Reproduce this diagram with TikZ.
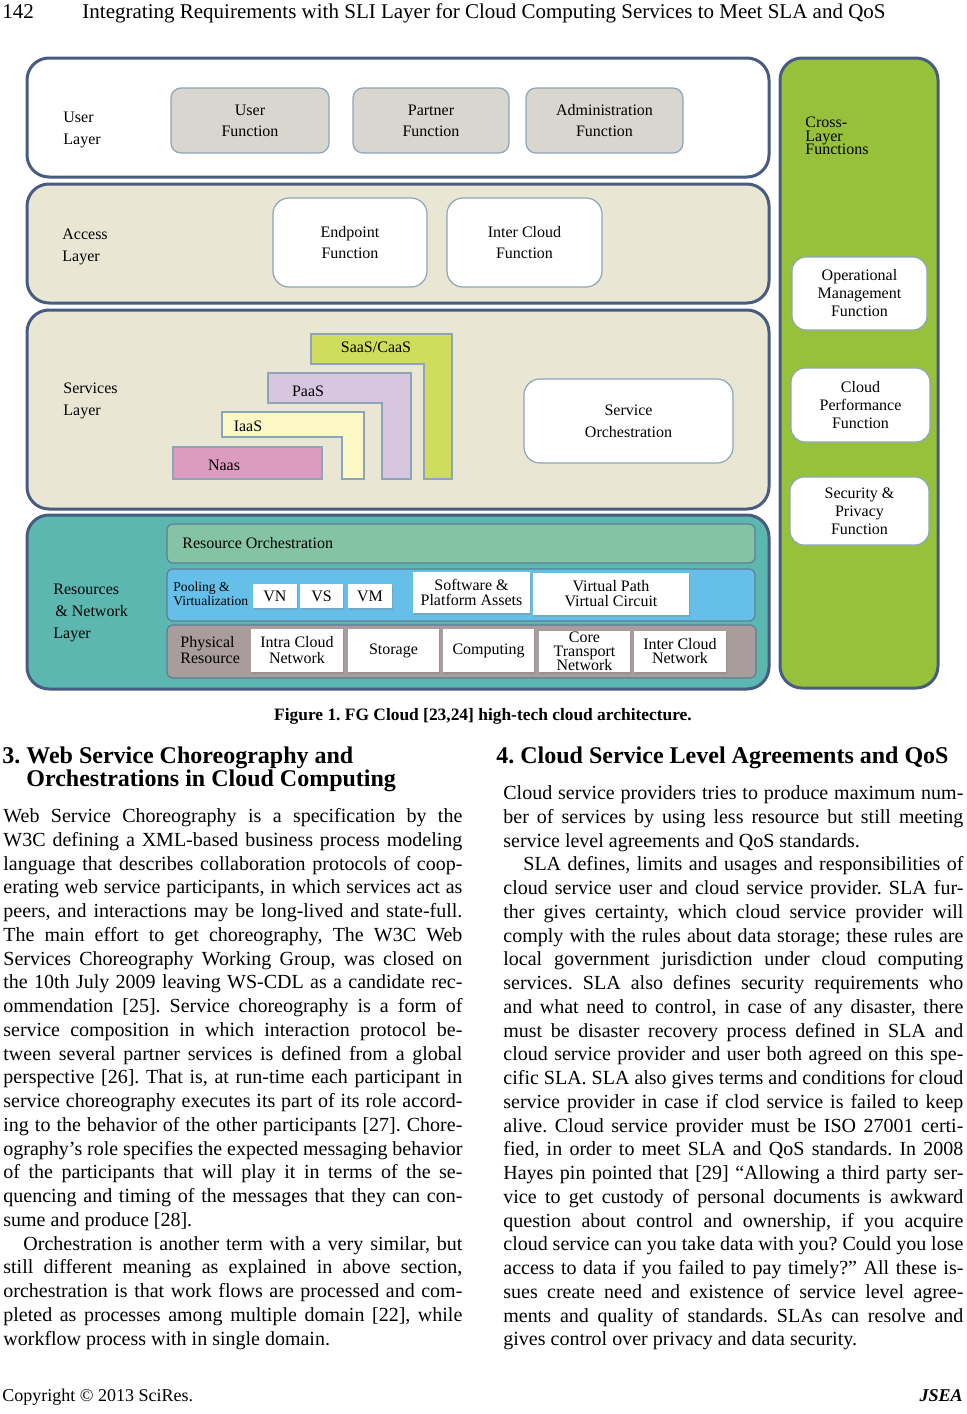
\documentclass[tikz,border=0pt]{standalone}
\usepackage{fontspec}
\setmainfont{Liberation Serif}
\usetikzlibrary{fit,positioning,shadows}

\definecolor{laybord}{RGB}{72,92,130}
\definecolor{beige}{RGB}{233,230,212}
\definecolor{resteal}{RGB}{92,183,176}
\definecolor{crossgreen}{RGB}{151,193,59}
\definecolor{fngray}{RGB}{217,213,207}
\definecolor{boxbord}{RGB}{140,165,185}
\definecolor{barbord}{RGB}{95,125,150}
\definecolor{orchgreen}{RGB}{132,196,164}
\definecolor{poolblue}{RGB}{102,191,232}
\definecolor{physgray}{RGB}{168,156,156}
\definecolor{naaspink}{RGB}{220,156,192}
\definecolor{iaasyel}{RGB}{251,248,197}
\definecolor{paaslav}{RGB}{215,198,224}
\definecolor{saasgreen}{RGB}{207,220,92}

\newcommand\fullline[1]{\hbox to\hsize{#1}}
\newcommand\lastline[1]{\hbox{#1}}
\newcommand\tightfont[2]{\fontsize{#1}{#2}\selectfont\lineskiplimit=-20pt\relax}
\frenchspacing

\begin{document}
\begin{tikzpicture}[x=0.5pt,y=-0.5pt]
	\tikzstyle{layer}=[rectangle, draw=laybord, line width=1.5pt, rounded corners=11pt, inner sep=0pt]
	\tikzstyle{func}=[rectangle, draw=boxbord, line width=0.6pt, rounded corners=5pt, inner sep=0pt, align=center, font=\tightfont{8}{10.5}]
	\tikzstyle{lbl}=[anchor=west, align=left, inner sep=0pt, font=\tightfont{8}{10.8}]
	\tikzstyle{bar}=[rectangle, draw=barbord, line width=0.6pt, rounded corners=3pt, inner sep=0pt]
	\tikzstyle{res}=[rectangle, fill=white, inner sep=0pt, align=center, font=\tightfont{8}{7.5}, drop shadow={shadow xshift=0.6pt, shadow yshift=-0.8pt, opacity=0.35}]
	\tikzstyle{ell}=[draw=boxbord, line width=0.6pt]
	\tikzstyle{body}=[anchor=base west, inner sep=0pt, font=\fontsize{10}{11.88}\selectfont\frenchspacing]
	\tikzstyle{head}=[anchor=base west, inner sep=0pt, font=\fontsize{12}{14}\selectfont\bfseries]
	\fill[white] (0,0) rectangle (967,1414);
	\useasboundingbox (0,0) rectangle (967,1414);
	% running head
	\node[anchor=base west, inner sep=0pt, font=\fontsize{10.5}{12}\selectfont] (pagenum) at (2,18) {142};
	\node[anchor=base, inner sep=0pt, font=\fontsize{10.5}{12}\selectfont] (runhead) at (484,18) {Integrating Requirements with SLI Layer for Cloud Computing Services to Meet SLA and QoS};
	% layers
	\node[layer, fill=white, fit={(27,58) (769,177)}] (user) {};
	\node[layer, fill=beige, fit={(27,184) (769,303)}] (access) {};
	\node[layer, fill=beige, fit={(27,310) (769,509)}] (services) {};
	\node[layer, fill=resteal, fit={(27,515) (769,689)}] (resources) {};
	\node[layer, fill=crossgreen, fit={(780,58) (938,688)}] (cross) {};
	\node[lbl] (userlbl) at (63,130) {User\\Layer};
	\node[lbl] (accesslbl) at (62,247) {Access\\Layer};
	\node[lbl] (serviceslbl) at (63,401) {Services\\Layer};
	\node[lbl] (reslbl) at (53,613) {Resources\\\hspace{1pt}\& Network\\Layer};
	\node[lbl, font=\tightfont{8}{6.8}] (crosslbl) at (805,136) {Cross-\\Layer\\Functions};
	% user and access functions
	\node[func, fill=fngray, minimum width=79pt, minimum height=32.5pt] (userfn) at (250,120.5) {User\\Function};
	\node[func, fill=fngray, minimum width=78pt, minimum height=32.5pt] (partnerfn) at (431,120.5) {Partner\\Function};
	\node[func, fill=fngray, minimum width=78.5pt, minimum height=32.5pt] (adminfn) at (604.5,120.5) {Administration\\Function};
	\node[func, fill=white, rounded corners=8pt, minimum width=77pt, minimum height=44.5pt] (endpointfn) at (350,242.5) {Endpoint\\Function};
	\node[func, fill=white, rounded corners=8pt, minimum width=77.5pt, minimum height=44.5pt] (intercloudfn) at (524.5,242.5) {Inter Cloud\\Function};
	% services
	\draw[ell, fill=saasgreen] (311,334) -- (452,334) -- (452,479) -- (424,479) -- (424,364) -- (311,364) -- cycle;
	\draw[ell, fill=paaslav] (268,373) -- (411,373) -- (411,479) -- (382,479) -- (382,403) -- (268,403) -- cycle;
	\draw[ell, fill=iaasyel] (222,412) -- (364,412) -- (364,479) -- (342,479) -- (342,437) -- (222,437) -- cycle;
	\draw[ell, fill=naaspink] (173,447) rectangle (322,479);
	\node[lbl, anchor=center] (saas) at (376,347) {SaaS/CaaS};
	\node[lbl, anchor=center] (paas) at (308,391) {PaaS};
	\node[lbl, anchor=center] (iaas) at (248,426) {IaaS};
	\node[lbl, anchor=center] (naas) at (224,465) {Naas};
	\node[func, fill=white, rounded corners=8pt, font=\tightfont{8}{10.8}, minimum width=104.5pt, minimum height=42pt] (svcorch) at (628.5,421) {Service\\Orchestration};
	% cross-layer functions
	\node[func, fill=white, rounded corners=7pt, font=\tightfont{8}{9}, minimum width=67.5pt, minimum height=36.5pt] (opfn) at (859.5,293.5) {Operational\\Management\\Function};
	\node[func, fill=white, rounded corners=7pt, font=\tightfont{8}{9}, minimum width=69.5pt, minimum height=37pt] (perffn) at (860.5,405) {Cloud\\Performance\\Function};
	\node[func, fill=white, rounded corners=7pt, font=\tightfont{8}{9}, minimum width=69.5pt, minimum height=34pt] (secfn) at (859.5,511) {Security \&\\Privacy\\Function};
	% resources and network
	\node[bar, fill=orchgreen, fit={(167,524) (755,563)}] (resorch) {};
	\node[lbl] (resorchlbl) at (182,543) {Resource Orchestration};
	\node[bar, fill=poolblue, fit={(167,569) (755,621)}] (pooling) {};
	\node[lbl, font=\tightfont{6.8}{6.8}] (poollbl) at (173,594) {Pooling \&\\Virtualization};
	\node[res, minimum width=22pt, minimum height=12pt] (vn) at (275,596) {VN};
	\node[res, minimum width=21.5pt, minimum height=12pt] (vs) at (321.5,596) {VS};
	\node[res, minimum width=22pt, minimum height=12pt] (vm) at (370,596) {VM};
	\node[res, minimum width=58.5pt, minimum height=20.5pt] (swassets) at (471.5,592.5) {Software \&\\Platform Assets};
	\node[res, minimum width=78pt, minimum height=21pt] (vpath) at (611,594) {Virtual Path\\Virtual Circuit};
	\node[bar, fill=physgray, fit={(167,625) (756,678)}] (physical) {};
	\node[lbl, font=\tightfont{8}{8}] (physlbl) at (180,650) {Physical\\Resource};
	\node[res, font=\tightfont{8}{8}, minimum width=46pt, minimum height=21.5pt] (intranet) at (297,650.5) {Intra Cloud\\Network};
	\node[res, minimum width=45.5pt, minimum height=21.5pt] (storage) at (393.5,650.5) {Storage};
	\node[res, minimum width=45.5pt, minimum height=21.5pt] (computing) at (488.5,650.5) {Computing};
	\node[res, font=\tightfont{8}{7}, minimum width=45.5pt, minimum height=20.5pt] (coretrans) at (584.5,651.5) {Core\\Transport\\Network};
	\node[res, font=\tightfont{8}{7}, minimum width=46pt, minimum height=20.5pt] (internet) at (680,651.5) {Inter Cloud\\Network};
	% caption and headings
	\node[anchor=base, inner sep=0pt, font=\fontsize{8.7}{11}\selectfont\bfseries] (caption) at (483,720) {Figure 1. FG Cloud [23,24] high-tech cloud architecture.};
	\node[head] (sec3) at (2,763) {3. Web Service Choreography and};
	\node[head] (sec3b) at (26,786) {Orchestrations in Cloud Computing};
	\node[head] (sec4) at (496,763) {4. Cloud Service Level Agreements and QoS};
	% columns
	\node[body] (leftcol) at (3,822.5) {\parbox[t]{229.5pt}{%
		\fullline{Web Service Choreography is a specification by the}
		\fullline{W3C defining a XML-based business process modeling}
		\fullline{language that describes collaboration protocols of coop-}
		\fullline{erating web service participants, in which services act as}
		\fullline{peers, and interactions may be long-lived and state-full.}
		\fullline{The main effort to get choreography, The W3C Web}
		\fullline{Services Choreography Working Group, was closed on}
		\fullline{the 10th July 2009 leaving WS-CDL as a candidate rec-}
		\fullline{ommendation [25]. Service choreography is a form of}
		\fullline{service composition in which interaction protocol be-}
		\fullline{tween several partner services is defined from a global}
		\fullline{perspective [26]. That is, at run-time each participant in}
		\fullline{service choreography executes its part of its role accord-}
		\fullline{ing to the behavior of the other participants [27]. Chore-}
		\fullline{ography’s role specifies the expected messaging behavior}
		\fullline{of the participants that will play it in terms of the se-}
		\fullline{quencing and timing of the messages that they can con-}
		\lastline{sume and produce [28].}
		\fullline{\hskip1em Orchestration is another term with a very similar, but}
		\fullline{still different meaning as explained in above section,}
		\fullline{orchestration is that work flows are processed and com-}
		\fullline{pleted as processes among multiple domain [22], while}
		\lastline{workflow process with in single domain.}}};
	\node[body] (rightcol) at (503,799.5) {\parbox[t]{230pt}{%
		\fullline{Cloud service providers tries to produce maximum num-}
		\fullline{ber of services by using less resource but still meeting}
		\lastline{service level agreements and QoS standards.}
		\fullline{\hskip1em SLA defines, limits and usages and responsibilities of}
		\fullline{cloud service user and cloud service provider. SLA fur-}
		\fullline{ther gives certainty, which cloud service provider will}
		\fullline{comply with the rules about data storage; these rules are}
		\fullline{local government jurisdiction under cloud computing}
		\fullline{services. SLA also defines security requirements who}
		\fullline{and what need to control, in case of any disaster, there}
		\fullline{must be disaster recovery process defined in SLA and}
		\fullline{cloud service provider and user both agreed on this spe-}
		\fullline{cific SLA. SLA also gives terms and conditions for cloud}
		\fullline{service provider in case if clod service is failed to keep}
		\fullline{alive. Cloud service provider must be ISO 27001 certi-}
		\fullline{fied, in order to meet SLA and QoS standards. In 2008}
		\fullline{Hayes pin pointed that [29] “Allowing a third party ser-}
		\fullline{vice to get custody of personal documents is awkward}
		\fullline{question about control and ownership, if you acquire}
		\fullline{cloud service can you take data with you? Could you lose}
		\fullline{access to data if you failed to pay timely?” All these is-}
		\fullline{sues create need and existence of service level agree-}
		\fullline{ments and quality of standards. SLAs can resolve and}
		\lastline{gives control over privacy and data security.}}};
	% footer
	\node[anchor=base west, inner sep=0pt, font=\fontsize{9}{11}\selectfont] (copyright) at (2,1401) {Copyright © 2013 SciRes.};
	\node[anchor=base east, inner sep=0pt, font=\fontsize{9}{11}\selectfont\bfseries\itshape] (journal) at (963,1401) {JSEA};
\end{tikzpicture}
\end{document}
